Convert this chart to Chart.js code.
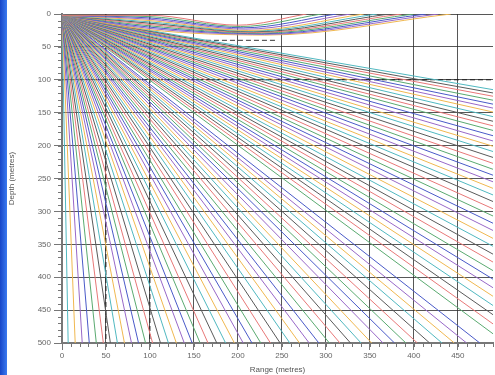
<!DOCTYPE html>
<html>
<head>
<meta charset="utf-8">
<script src="https://cdn.jsdelivr.net/npm/chart.js@4.4.0/dist/chart.umd.min.js"></script>
<style>
  html, body { margin: 0; padding: 0; background: #fff; }
  #wrap { position: relative; width: 495px; height: 375px; }
  #edge { position: absolute; left: 0; top: 0; width: 7px; height: 375px; background: linear-gradient(to right, #1746c8, #3a7af0); }
</style>
</head>
<body>
<div id="wrap">
  <canvas id="rays" width="495" height="375"></canvas>
  <div id="edge"></div>
</div>
<script>
const sourceDepth = 2;
const maxRange = 490;
const maxDepth = 500;

// rays that leave through the right edge (depth at 490 m)
const edgeDepths = [115, 120, 125, 131, 137, 143, 149, 156, 163, 170, 177, 185, 193, 201, 209,
    218, 227, 236, 245, 255, 265, 275, 285, 296, 307, 318, 329, 341, 353, 365, 377, 390,
    403, 416, 429, 443, 457, 471, 486];

// rays that reach the bottom (range at 500 m)
const bottomRanges = [475, 460, 446, 432, 418, 404, 391, 378, 365, 352, 340, 328, 316, 304,
    292, 281, 270, 259, 248, 237, 226, 216, 206, 196, 186, 176, 166, 157, 148, 139, 130,
    121, 112, 103, 95, 87, 79, 71, 63, 55, 47, 39, 31, 23, 15, 7];

// surface duct rays: depth at 100 m, turning point, and where they come back to the surface
const ductDepthAt100 = [2, 4, 6, 8, 10, 12, 14, 16, 18, 20, 22, 24];
const ductTurnRange = [200, 203, 206, 209, 212, 215, 218, 221, 224, 227, 230, 233];
const ductTurnDepth = [17, 19, 21, 23, 25, 26, 27, 28, 29, 30, 31, 32];
const ductSurfaceRange = [278, 295, 312, 328, 343, 358, 372, 386, 400, 414, 428, 442];

// dashed reference lines
const dashedRanges = [50, 100];
const dashedDepths = [100];
const causticDepth = 40;
const causticRanges = [100, 245];

const rayColours = ["#e87878", "#5aaa70", "#4a5ac8", "#9868c8", "#f0b850", "#50b8c0", "#5a5a5a"];

const datasets = [];
let n = 0;
function addRay(points, curved) {
    datasets.push({
        data: points,
        borderColor: rayColours[n++ % rayColours.length],
        borderWidth: 1,
        pointRadius: 0,
        fill: false,
        cubicInterpolationMode: curved ? "monotone" : "default",
    });
}
function addDashed(points) {
    datasets.push({
        data: points,
        borderColor: "rgba(20,20,20,0.85)",
        borderWidth: 1,
        borderDash: [5, 3],
        pointRadius: 0,
    });
}

ductTurnRange.forEach((r, i) => {
    addRay([
        { x: 0, y: sourceDepth },
        { x: 100, y: ductDepthAt100[i] },
        { x: r, y: ductTurnDepth[i] },
        { x: ductSurfaceRange[i], y: 0 },
    ], true);
});
edgeDepths.forEach((d) => addRay([{ x: 0, y: sourceDepth }, { x: maxRange, y: d }], false));
bottomRanges.forEach((r) => addRay([{ x: 0, y: sourceDepth }, { x: r, y: maxDepth }], false));

dashedRanges.forEach((r) => addDashed([{ x: r, y: 0 }, { x: r, y: maxDepth }]));
dashedDepths.forEach((d) => addDashed([{ x: 0, y: d }, { x: maxRange, y: d }]));
addDashed([{ x: causticRanges[0], y: causticDepth }, { x: causticRanges[1], y: causticDepth }]);

// small ticks every 10 m along both axes
const minorTicks = {
    id: "minorTicks",
    afterDraw(chart) {
        const { ctx, chartArea, scales } = chart;
        ctx.save();
        ctx.strokeStyle = "#777";
        ctx.lineWidth = 1;
        ctx.beginPath();
        for (let v = 0; v <= maxRange; v += 10) {
            const px = Math.round(scales.x.getPixelForValue(v)) + 0.5;
            ctx.moveTo(px, chartArea.bottom);
            ctx.lineTo(px, chartArea.bottom + 4);
        }
        for (let v = 0; v <= maxDepth; v += 10) {
            const py = Math.round(scales.y.getPixelForValue(v)) + 0.5;
            ctx.moveTo(chartArea.left - 4, py);
            ctx.lineTo(chartArea.left, py);
        }
        ctx.stroke();
        ctx.restore();
    },
};

const tickFont = { family: "Arial, 'Liberation Sans', sans-serif", size: 8 };
const gridColour = "rgba(45,45,45,0.8)";

new Chart(document.getElementById("rays").getContext("2d"), {
    type: "line",
    data: { datasets: datasets },
    options: {
        responsive: false,
        animation: false,
        layout: { padding: { top: 14, right: 2, left: 0, bottom: 0 } },
        plugins: { legend: { display: false }, tooltip: { enabled: false } },
        scales: {
            x: {
                type: "linear",
                min: 0,
                max: maxRange,
                z: 1,
                ticks: { stepSize: 50, includeBounds: false, font: tickFont, color: "#666", padding: 1, maxRotation: 0 },
                grid: { color: gridColour, lineWidth: 1, tickLength: 7, tickColor: "#777" },
                border: { color: "#777", width: 2 },
                title: { display: true, text: "Range (metres)", font: tickFont, color: "#555", padding: { top: 0, bottom: 0 } },
                afterFit: (scale) => { scale.height = 32; },
            },
            y: {
                type: "linear",
                reverse: true,
                min: 0,
                max: maxDepth,
                z: 1,
                ticks: { stepSize: 50, font: tickFont, color: "#666", padding: 3 },
                grid: { color: gridColour, lineWidth: 1, tickLength: 8, tickColor: "#777" },
                border: { color: "#777", width: 2 },
                title: { display: true, text: "Depth (metres)", font: tickFont, color: "#555", padding: { top: 7, bottom: 0 } },
                afterFit: (scale) => { scale.width = 62; },
            },
        },
    },
    plugins: [minorTicks],
});
</script>
</body>
</html>
